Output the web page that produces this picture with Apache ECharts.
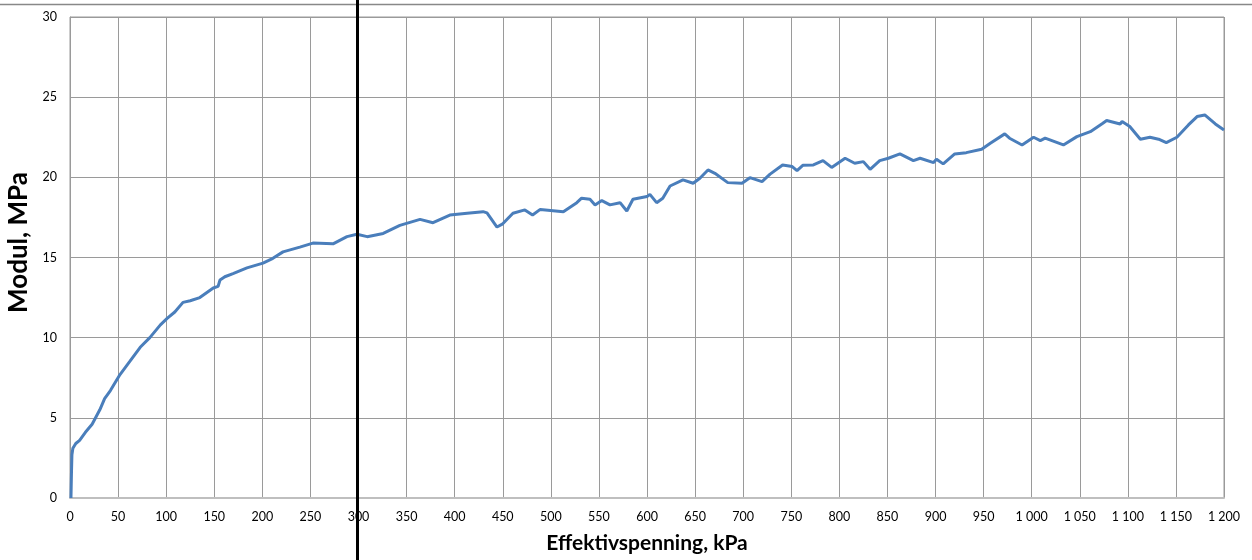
<!DOCTYPE html>
<html>
<head>
<meta charset="utf-8">
<script src="https://cdn.jsdelivr.net/npm/echarts@6/dist/echarts.min.js"></script>
<style>
html,body{margin:0;padding:0;background:#fff;}
#c{width:1252px;height:560px;}
</style>
</head>
<body>
<div id="c"></div>
<script>
const effektivspenning = [1, 1.5, 2, 3, 6, 10, 16, 23, 31, 36, 42, 47, 52, 62, 73, 83, 94, 101, 109, 117.5, 125, 135, 149, 154, 156, 161, 169.5, 184, 200.7, 211, 221.5, 239, 252.6, 273.5, 288, 298.4, 309, 325.7, 343, 364, 377.5, 395, 413, 429.5, 433.6, 444, 450, 460.6, 473, 481, 489, 513, 527, 532, 540.7, 546, 553, 561.5, 572, 579, 585.4, 600, 603, 610, 616.4, 624, 637.4, 648, 655, 663.4, 670.6, 684, 698.8, 707, 719.6, 728, 741, 751, 756, 762, 773, 783, 792, 806, 816, 825, 832, 842, 851, 863, 877, 884, 898, 901, 908, 920, 932, 948, 957, 972, 977, 990, 1002, 1009, 1014, 1033, 1047, 1061, 1074, 1078, 1092, 1094, 1102, 1113, 1123, 1132, 1140, 1151, 1163, 1172, 1180, 1191, 1200];
const modul = [0, 1.5, 2.7, 3.1, 3.4, 3.6, 4.1, 4.6, 5.5, 6.2, 6.7, 7.2, 7.7, 8.5, 9.4, 10.0, 10.8, 11.2, 11.6, 12.2, 12.3, 12.5, 13.1, 13.2, 13.6, 13.8, 14.0, 14.35, 14.65, 14.95, 15.35, 15.65, 15.9, 15.85, 16.3, 16.45, 16.3, 16.5, 17.0, 17.38, 17.17, 17.65, 17.76, 17.86, 17.78, 16.9, 17.1, 17.76, 17.97, 17.65, 18.0, 17.86, 18.42, 18.7, 18.63, 18.28, 18.55, 18.28, 18.42, 17.9, 18.63, 18.8, 18.94, 18.42, 18.7, 19.46, 19.84, 19.63, 19.94, 20.46, 20.25, 19.67, 19.63, 19.98, 19.73, 20.2, 20.77, 20.67, 20.42, 20.75, 20.77, 21.04, 20.62, 21.19, 20.88, 20.98, 20.5, 21.04, 21.19, 21.46, 21.04, 21.19, 20.92, 21.13, 20.84, 21.46, 21.54, 21.75, 22.13, 22.71, 22.44, 22.02, 22.5, 22.29, 22.44, 22.02, 22.54, 22.85, 23.37, 23.54, 23.33, 23.48, 23.17, 22.38, 22.5, 22.38, 22.17, 22.5, 23.27, 23.79, 23.89, 23.33, 22.95];
const markerX = 300;
const xTitle = 'Effektivspenning, kPa';
const yTitle = 'Modul, MPa';

const FONT = 'Lato, "Open Sans", sans-serif';
const chart = echarts.init(document.getElementById('c'), null, {renderer: 'canvas'});
const data = effektivspenning.map((x, i) => [x, modul[i]]);

function fmt(v) {
  const s = String(Math.round(v));
  return s.replace(/\B(?=(\d{3})+(?!\d))/g, ' ');
}

chart.setOption({
  animation: false,
  backgroundColor: '#ffffff',
  grid: {left: 70, right: 28, top: 17, bottom: 62, show: true, borderColor: '#9a9a9a', borderWidth: 1, outerBoundsMode: 'none', containLabel: false},
  xAxis: {
    type: 'value', min: 0, max: 1200, interval: 50,
    name: xTitle, nameLocation: 'middle', nameGap: 35,
    nameTextStyle: {fontFamily: FONT, fontWeight: 'bold', fontSize: 21, color: '#000'},
    axisLine: {show: true, lineStyle: {color: '#bfbfbf', width: 2}},
    axisTick: {show: false},
    axisLabel: {fontFamily: FONT, fontSize: 12.5, color: '#000', margin: 12, formatter: fmt},
    splitLine: {show: true, lineStyle: {color: '#9a9a9a', width: 1}}
  },
  yAxis: {
    type: 'value', min: 0, max: 30, interval: 5,
    name: yTitle, nameLocation: 'middle', nameGap: 36,
    nameTextStyle: {fontFamily: FONT, fontWeight: 'bold', fontSize: 26, color: '#000', padding: [0, 0, 0, 30]},
    axisLine: {show: true, lineStyle: {color: '#9a9a9a', width: 1}},
    axisTick: {show: false},
    axisLabel: {fontFamily: FONT, fontSize: 12.5, color: '#000', margin: 13},
    splitLine: {show: true, lineStyle: {color: '#9a9a9a', width: 1}}
  },
  series: [{
    type: 'line', data: data, showSymbol: false, smooth: false,
    lineStyle: {color: '#4a7ebb', width: 3},
    itemStyle: {color: '#4a7ebb'}
  }]
});

const px = chart.convertToPixel({xAxisIndex: 0}, markerX);
const W = chart.getWidth(), H = chart.getHeight();
chart.setOption({
  graphic: [
    {type: 'line', shape: {x1: 0, y1: 4.5, x2: W, y2: 4.5}, style: {stroke: '#888888', lineWidth: 1.5}, z: 100},
    {type: 'line', shape: {x1: px - 1, y1: 0, x2: px - 1, y2: H}, style: {stroke: '#000000', lineWidth: 3}, z: 100}
  ]
});
</script>
</body>
</html>
